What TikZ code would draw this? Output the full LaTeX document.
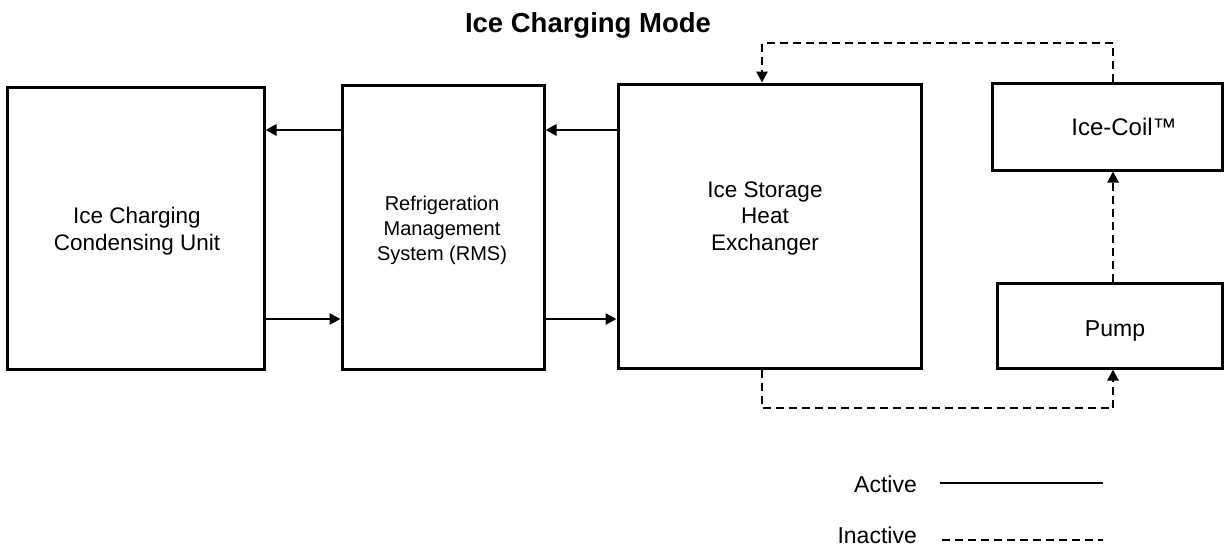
\documentclass[tikz,border=0pt]{standalone}
\usepackage{fontspec}
\setmainfont{Liberation Sans}
\usetikzlibrary{arrows.meta}
\begin{document}
\begin{tikzpicture}[x=1pt,y=-1pt,
  box/.style={draw,line width=3pt,inner sep=0pt,rectangle},
  txt/.style={font=\fontsize{22.5}{26.5}\selectfont,align=center,inner sep=0pt},
  smalltxt/.style={font=\fontsize{20}{25}\selectfont,align=center,inner sep=0pt},
  conn/.style={line width=2.8pt,-{Triangle[length=11pt,width=11pt]}},
  dsh/.style={conn,dash pattern=on 8pt off 5pt},
  legsolid/.style={line width=2.8pt},
  legdash/.style={line width=2.8pt,dash pattern=on 8pt off 5pt}]
\useasboundingbox (0,0) rectangle (1225,546);

% title
\node[font=\fontsize{27.5}{32}\selectfont\bfseries,inner sep=0pt,anchor=base] (title) at (588,32) {Ice Charging Mode};

% boxes
\node[box,minimum width=257pt,minimum height=282pt] (cu) at (135.5,228) {};
\node[box,minimum width=202pt,minimum height=284pt] (rms) at (443,227) {};
\node[box,minimum width=303pt,minimum height=284pt] (ish) at (769.5,226) {};
\node[box,minimum width=230pt,minimum height=87pt] (ice) at (1107,126.5) {};
\node[box,minimum width=225pt,minimum height=85pt] (pump) at (1109.5,325.5) {};

% texts
\node[txt] (cut) at (137,231) {Ice Charging\\Condensing Unit};
\node[smalltxt] (rmst) at (442,230) {Refrigeration\\Management\\System (RMS)};
\node[txt] (isht) at (765,218) {Ice Storage\\Heat\\Exchanger};
\node[txt,font=\fontsize{24}{26.5}\selectfont,anchor=base] (icet) at (1124,135) {Ice-Coil™};
\node[txt,font=\fontsize{23}{26.5}\selectfont,anchor=base] (pumpt) at (1115,336) {Pump};

% helper coordinates
\coordinate (yTopArr) at (0,130);
\coordinate (yBotArr) at (0,319);
\coordinate (xL) at (762,0);
\coordinate (xR) at (1113,0);
\coordinate (yTop) at (0,43);
\coordinate (yBot) at (0,408);

% solid connectors
\draw[conn] (rms.west |- yTopArr) -- (cu.east |- yTopArr);
\draw[conn] (cu.east |- yBotArr) -- (rms.west |- yBotArr);
\draw[conn] (ish.west |- yTopArr) -- (rms.east |- yTopArr);
\draw[conn] (rms.east |- yBotArr) -- (ish.west |- yBotArr);

% dashed connectors
\draw[dsh] (ice.north -| xR) |- (xL |- yTop) -- (ish.north -| xL);
\draw[dsh] (pump.north -| xR) -- (ice.south -| xR);
\draw[dsh] (ish.south -| xL) |- (xR |- yBot) -- (pump.south -| xR);

% legend
\node[txt,font=\fontsize{23}{26.5}\selectfont,anchor=base east] (act) at (917,492) {Active};
\node[txt,font=\fontsize{23}{26.5}\selectfont,anchor=base east] (inact) at (917,543) {Inactive};
\coordinate (a1) at (940,483);
\coordinate (a2) at (1103,483);
\coordinate (i1) at (942,540);
\coordinate (i2) at (1103,540);
\draw[legsolid] (a1) -- (a2);
\draw[legdash] (i1) -- (i2);
\end{tikzpicture}
\end{document}
